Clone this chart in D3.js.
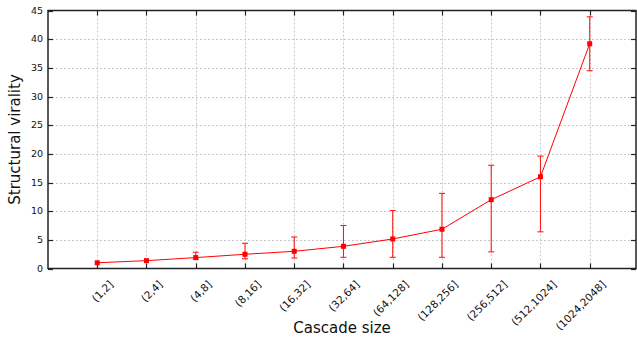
<!DOCTYPE html>
<html lang="en">
	<head>
		<meta charset="utf-8">
		<title>Structural virality by cascade size</title>
		<script src="https://d3js.org/d3.v7.min.js"></script>
		<style type="text/css">
			body { margin: 0; background: #fff; }
			text { font-family: "DejaVu Sans", Verdana, sans-serif; fill: #111; }
		</style>
	</head>
	<body>
		<script type="text/javascript">

			// data
			var categories = ["(1,2]", "(2,4]", "(4,8]", "(8,16]", "(16,32]", "(32,64]",
				"(64,128]", "(128,256]", "(256,512]", "(512,1024]", "(1024,2048]"];
			var means = [1.0, 1.37, 1.9, 2.48, 3.0, 3.87, 5.15, 6.85, 12.0, 16.0, 39.2];
			var lows  = [null, null, 1.6, 1.7, 1.83, 1.95, 1.95, 1.95, 2.9, 6.4, 34.5];
			var highs = [null, null, 2.83, 4.4, 5.5, 7.5, 10.1, 13.1, 18.0, 19.6, 43.9];
			var yTicks = [0, 5, 10, 15, 20, 25, 30, 35, 40, 45];

			var w = 637, h = 337;
			var pL = 48, pR = 636, pT = 10.5, pB = 268.5;

			var svg = d3.select("body").append("svg")
				.attr("width", w)
				.attr("height", h);

			// category i sits at slot i+1 on a 0..12 axis
			var x = d3.scaleLinear().domain([0, 11.94]).range([pL, pR]);
			var y = d3.scaleLinear().domain([0, 45]).range([pB, pT]);

			// grid
			svg.append("g").selectAll("line")
				.data(yTicks.filter(function(d){ return d > 0 && d < 45; }))
				.enter().append("line")
				.attr("x1", pL).attr("x2", pR)
				.attr("y1", function(d){ return Math.round(y(d)) + 0.5; })
				.attr("y2", function(d){ return Math.round(y(d)) + 0.5; })
				.attr("stroke", "#c8c8c8")
				.attr("stroke-dasharray", "2,2");
			svg.append("g").selectAll("line")
				.data(categories)
				.enter().append("line")
				.attr("x1", function(d, i){ return Math.round(x(i + 1)) + 0.5; })
				.attr("x2", function(d, i){ return Math.round(x(i + 1)) + 0.5; })
				.attr("y1", pT).attr("y2", pB)
				.attr("stroke", "#c8c8c8")
				.attr("stroke-dasharray", "2,2");

			// frame
			svg.append("rect")
				.attr("x", pL).attr("y", pT)
				.attr("width", pR - pL).attr("height", pB - pT)
				.attr("fill", "none")
				.attr("stroke", "#222")
				.attr("stroke-width", 1.5);

			// ticks pointing inward on all four sides
			var ticks = svg.append("g").attr("stroke", "#222").attr("stroke-width", 1.2);
			yTicks.forEach(function(d){
				var yy = Math.round(y(d)) + 0.5;
				ticks.append("line").attr("x1", pL).attr("x2", pL + 5).attr("y1", yy).attr("y2", yy);
				ticks.append("line").attr("x1", pR - 5).attr("x2", pR).attr("y1", yy).attr("y2", yy);
			});
			categories.forEach(function(d, i){
				var xx = Math.round(x(i + 1)) + 0.5;
				ticks.append("line").attr("x1", xx).attr("x2", xx).attr("y1", pB).attr("y2", pB - 5);
				ticks.append("line").attr("x1", xx).attr("x2", xx).attr("y1", pT).attr("y2", pT + 5);
			});

			// tick labels
			svg.append("g").selectAll("text")
				.data(yTicks)
				.enter().append("text")
				.attr("x", pL - 5)
				.attr("y", function(d){ return y(d); })
				.attr("dy", "0.35em")
				.attr("text-anchor", "end")
				.style("font-size", "9.5px")
				.text(function(d){ return d; });

			svg.append("g").selectAll("text")
				.data(categories)
				.enter().append("text")
				.attr("transform", function(d, i){
					return "translate(" + (x(i + 1) + 14) + "," + (pB + 14) + ") rotate(-45)";
				})
				.attr("dy", "0.35em")
				.attr("text-anchor", "end")
				.style("font-size", "10.5px")
				.text(function(d){ return d; });

			// axis titles
			svg.append("text")
				.attr("x", (pL + pR) / 2)
				.attr("y", 333)
				.attr("text-anchor", "middle")
				.style("font-size", "15px")
				.text("Cascade size");
			svg.append("text")
				.attr("transform", "translate(20," + ((pT + pB) / 2) + ") rotate(-90)")
				.attr("text-anchor", "middle")
				.style("font-size", "15px")
				.text("Structural virality");

			// error bars
			var err = svg.append("g").attr("stroke", "#ff1a1a").attr("stroke-width", 1.1);
			categories.forEach(function(d, i){
				if (lows[i] === null) return;
				var xx = x(i + 1);
				err.append("line").attr("x1", xx).attr("x2", xx).attr("y1", y(lows[i])).attr("y2", y(highs[i]));
				err.append("line").attr("x1", xx - 3).attr("x2", xx + 3).attr("y1", y(lows[i])).attr("y2", y(lows[i]));
				err.append("line").attr("x1", xx - 3).attr("x2", xx + 3).attr("y1", y(highs[i])).attr("y2", y(highs[i]));
			});

			// line and markers
			var line = d3.line()
				.x(function(d, i){ return x(i + 1); })
				.y(function(d){ return y(d); });
			svg.append("path")
				.datum(means)
				.attr("d", line)
				.attr("fill", "none")
				.attr("stroke", "#ff0000")
				.attr("stroke-width", 1);
			svg.append("g").selectAll("rect")
				.data(means)
				.enter().append("rect")
				.attr("x", function(d, i){ return x(i + 1) - 2.5; })
				.attr("y", function(d){ return y(d) - 2.5; })
				.attr("width", 5).attr("height", 5)
				.attr("fill", "#ff0000");
		</script>
</body>
</html>
